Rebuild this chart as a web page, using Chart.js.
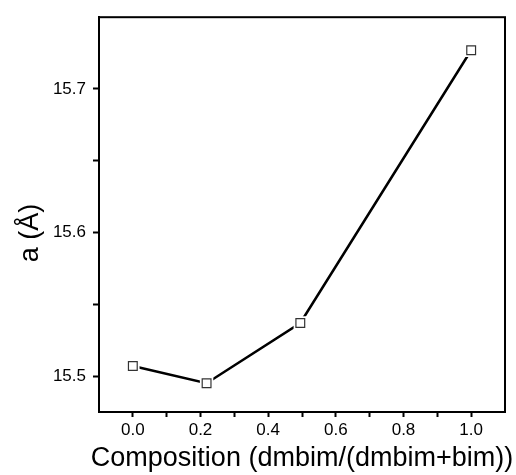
<!DOCTYPE html>
<html>
<head>
<meta charset="utf-8">
<script src="https://cdn.jsdelivr.net/npm/chart.js@4"></script>
<style>
  html, body { margin: 0; padding: 0; background: #fff; }
  #wrap { width: 516px; height: 475px; }
</style>
</head>
<body>
<div id="wrap"><canvas id="latticeChart" width="516" height="475"></canvas></div>
<script>
// composition x = dmbim/(dmbim+bim), lattice parameter a in Angstrom
const compX = [0.0, 0.218, 0.495, 1.0];
const latticeA = [15.507, 15.495, 15.537, 15.727];

const xLabelTicks = [0.0, 0.2, 0.4, 0.6, 0.8, 1.0];
const yLabelTicks = [15.5, 15.6, 15.7];

const FONT = '"Liberation Sans", Arial, sans-serif';

function near(v, list, eps) {
    return list.some(t => Math.abs(t - v) < eps);
}

const points = compX.map((x, i) => ({ x: x, y: latticeA[i] }));

// frame + axis titles drawn by hand (Origin style box)
const framePlugin = {
    id: 'framePlugin',
    afterDraw(chart) {
        const { ctx, chartArea } = chart;
        ctx.save();
        ctx.strokeStyle = '#000';
        ctx.lineWidth = 2;
        ctx.strokeRect(chartArea.left, chartArea.top, chartArea.right - chartArea.left, chartArea.bottom - chartArea.top);

        ctx.fillStyle = '#000';
        ctx.font = '27px ' + FONT;
        ctx.textAlign = 'center';
        ctx.textBaseline = 'middle';
        ctx.fillText('Composition (dmbim/(dmbim+bim))', 302, 459);

        ctx.translate(31, 233);
        ctx.rotate(-Math.PI / 2);
        ctx.fillText('a (Å)', 0, 0);
        ctx.restore();
    }
};

const ctx = document.getElementById('latticeChart').getContext('2d');
const latticeChart = new Chart(ctx, {
    type: 'scatter',
    data: {
        datasets: [
            {
                // open square markers (drawn last, on top)
                label: 'a markers',
                data: points,
                showLine: false,
                pointStyle: 'rect',
                pointRadius: 6.2,
                pointBackgroundColor: '#fff',
                pointBorderColor: '#333',
                pointBorderWidth: 1.2
            },
            {
                // connecting line, with white halos so it stops short of the markers
                label: 'a',
                data: points,
                showLine: true,
                borderColor: '#000',
                borderWidth: 2.5,
                pointStyle: 'rect',
                pointRadius: 9.5,
                pointBackgroundColor: '#fff',
                pointBorderColor: '#fff',
                pointBorderWidth: 0
            }
        ]
    },
    options: {
        responsive: false,
        animation: false,
        layout: { padding: { top: 12, right: 11, left: 0, bottom: 0 } },
        plugins: {
            legend: { display: false },
            tooltip: { enabled: false }
        },
        scales: {
            x: {
                type: 'linear',
                min: -0.1,
                max: 1.1,
                ticks: {
                    stepSize: 0.1,
                    autoSkip: false,
                    maxRotation: 0,
                    padding: 3,
                    color: '#000',
                    font: { family: FONT, size: 17 },
                    callback: v => near(v, xLabelTicks, 1e-6) ? v.toFixed(1) : ''
                },
                grid: {
                    drawOnChartArea: false,
                    drawTicks: true,
                    tickLength: 5,
                    tickWidth: 2,
                    tickColor: c => {
                        const v = c.tick ? c.tick.value : 0;
                        return (v < -0.05 || v > 1.05) ? 'rgba(0,0,0,0)' : '#000';
                    }
                },
                border: { color: '#000', width: 2 },
                afterFit: s => { s.height = 63; }
            },
            y: {
                type: 'linear',
                min: 15.475,
                max: 15.75,
                ticks: {
                    stepSize: 0.05,
                    autoSkip: false,
                    padding: 7,
                    color: '#000',
                    font: { family: FONT, size: 17 },
                    callback: v => near(v, yLabelTicks, 1e-6) ? v.toFixed(1) : ''
                },
                grid: {
                    drawOnChartArea: false,
                    drawTicks: true,
                    tickLength: 6,
                    tickWidth: 2,
                    tickColor: c => {
                        const v = c.tick ? c.tick.value : 0;
                        const k = Math.round(v / 0.05);
                        const onStep = Math.abs(v - k * 0.05) < 1e-6;
                        return (onStep && v < 15.74) ? '#000' : 'rgba(0,0,0,0)';
                    }
                },
                border: { color: '#000', width: 2 },
                afterFit: s => { s.width = 99; }
            }
        }
    },
    plugins: [framePlugin]
});
</script>
</body>
</html>
